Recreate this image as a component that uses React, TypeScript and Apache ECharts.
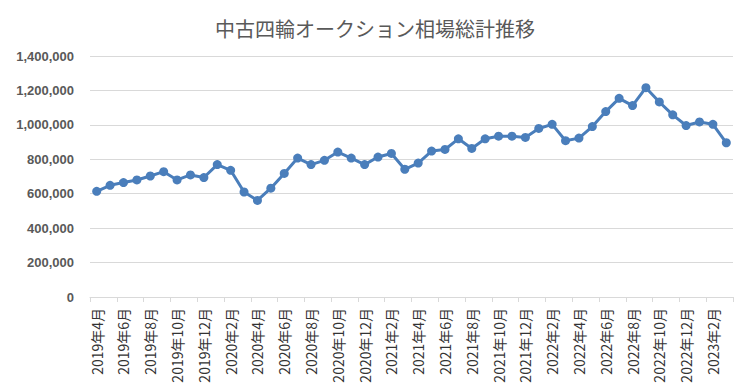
import React, { useEffect, useRef } from "react";
import * as echarts from "echarts";

const titleText = "中古四輪オークション相場総計推移";

const months: string[] = [
  "2019年4月", "2019年5月", "2019年6月", "2019年7月", "2019年8月", "2019年9月",
  "2019年10月", "2019年11月", "2019年12月", "2020年1月", "2020年2月", "2020年3月",
  "2020年4月", "2020年5月", "2020年6月", "2020年7月", "2020年8月", "2020年9月",
  "2020年10月", "2020年11月", "2020年12月", "2021年1月", "2021年2月", "2021年3月",
  "2021年4月", "2021年5月", "2021年6月", "2021年7月", "2021年8月", "2021年9月",
  "2021年10月", "2021年11月", "2021年12月", "2022年1月", "2022年2月", "2022年3月",
  "2022年4月", "2022年5月", "2022年6月", "2022年7月", "2022年8月", "2022年9月",
  "2022年10月", "2022年11月", "2022年12月", "2023年1月", "2023年2月", "2023年3月",
];

const values: number[] = [
  614000, 649000, 665000, 680000, 703000, 728000, 680000, 709000, 694000, 769000,
  736000, 610000, 561000, 632000, 718000, 807000, 769000, 794000, 842000, 807000,
  769000, 813000, 834000, 742000, 778000, 848000, 857000, 919000, 863000, 919000,
  934000, 934000, 927000, 979000, 1003000, 908000, 923000, 990000, 1077000, 1154000,
  1112000, 1216000, 1133000, 1058000, 996000, 1017000, 1003000, 896000,
];

const yMin = 0;
const yMax = 1400000;
const yInterval = 200000;

export default function App() {
  const ref = useRef<HTMLDivElement>(null);
  useEffect(() => {
    if (!ref.current) return;
    const chart = echarts.init(ref.current, null, { renderer: "svg" });
    chart.setOption({
      animation: false,
      backgroundColor: "#ffffff",
      title: {
        text: titleText,
        left: "center",
        top: 13,
        textStyle: {
          fontFamily: "Noto Sans CJK JP",
          fontSize: 20,
          fontWeight: "normal",
          color: "#595959",
        },
      },
      grid: {
        left: 90,
        right: 17,
        top: 56,
        bottom: 87,
        containLabel: false,
        outerBoundsMode: "none",
      },
      xAxis: {
        type: "category",
        data: months,
        boundaryGap: true,
        axisLine: { lineStyle: { color: "#d9d9d9", width: 1 } },
        axisTick: { show: true, interval: 1, length: 5, lineStyle: { color: "#d9d9d9" } },
        axisLabel: {
          interval: 1,
          rotate: 90,
          fontFamily: "Noto Sans CJK JP",
          fontSize: 14,
          color: "#333333",
          margin: 11,
        },
      },
      yAxis: {
        type: "value",
        min: yMin,
        max: yMax,
        interval: yInterval,
        axisLine: { show: false },
        axisTick: { show: false },
        splitLine: { lineStyle: { color: "#d9d9d9", width: 1 } },
        axisLabel: {
          fontFamily: "Liberation Sans",
          fontSize: 13,
          fontWeight: "bold",
          color: "#595959",
          margin: 16,
          formatter: (v: number) => v.toLocaleString("en-US"),
        },
      },
      series: [
        {
          type: "line",
          data: values,
          symbol: "circle",
          symbolSize: 9,
          showAllSymbol: true,
          lineStyle: { color: "#4a7ebb", width: 3 },
          itemStyle: { color: "#4a7ebb" },
        },
      ],
    });
    return () => chart.dispose();
  }, []);
  return (
    <div
      ref={ref}
      style={{ position: "absolute", left: 0, top: 0, width: 750, height: 384 }}
    />
  );
}
